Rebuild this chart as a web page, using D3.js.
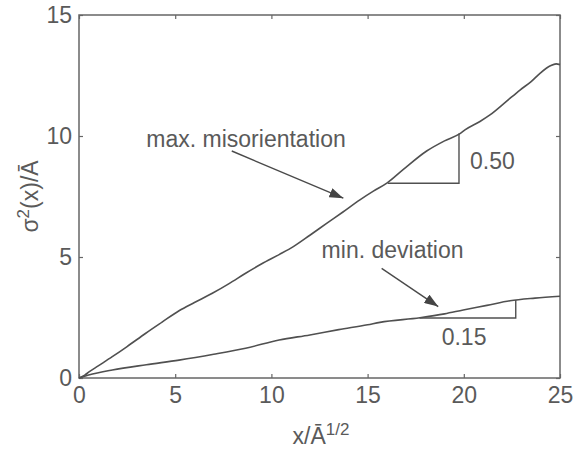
<!DOCTYPE html>
<html><head><meta charset="utf-8">
<script src="https://cdn.jsdelivr.net/npm/d3@7"></script>
<style>body{margin:0;background:#fff}text{font-family:"Liberation Sans",Arial,sans-serif}</style>
</head><body>
<svg id="c" width="574" height="449"></svg>
<script>
const xTicks = [0, 5, 10, 15, 20, 25];
const yTicks = [0, 5, 10, 15];
const maxMisX = [0, 0.3, 0.52, 1.0, 1.73, 2.5, 3.47, 4.3, 5.2, 6.0, 6.93, 7.8, 8.66, 9.5, 10.4, 11.14, 12.0, 12.87, 13.7, 14.6, 15.3, 16.0, 16.86, 18.07, 19.0, 19.8, 20.06, 20.84, 21.36, 22.2, 22.92, 23.5, 23.96, 24.5, 24.8, 25];
const maxMisY = [0, 0.12, 0.25, 0.5, 0.88, 1.3, 1.85, 2.3, 2.78, 3.12, 3.5, 3.9, 4.33, 4.72, 5.1, 5.43, 5.9, 6.39, 6.85, 7.36, 7.72, 8.05, 8.62, 9.38, 9.8, 10.1, 10.25, 10.6, 10.87, 11.42, 11.9, 12.25, 12.59, 12.9, 12.98, 12.95];
const minDevX = [0, 0.5, 1.73, 3.5, 5.2, 7.0, 8.66, 10.4, 12.0, 13.5, 15.0, 15.64, 17.72, 19.0, 19.97, 21.2, 22.4, 23.7, 25];
const minDevY = [0, 0.12, 0.33, 0.55, 0.74, 0.98, 1.23, 1.57, 1.78, 2.0, 2.2, 2.3, 2.49, 2.65, 2.81, 3.0, 3.19, 3.3, 3.38];
const triUpper = [[16.05, 8.05], [19.75, 8.05], [19.75, 10.1]];
const triLower = [[17.7, 2.48], [22.7, 2.48], [22.7, 3.22]];
const labels = [
  {t: "max. misorientation", x: 3.5, y: 9.56},
  {t: "min. deviation", x: 12.61, y: 4.95},
  {t: "0.50", x: 20.32, y: 8.64},
  {t: "0.15", x: 18.85, y: 1.36}
];
const arrows = [
  {x1: 7.94, y1: 9.38, x2: 13.74, y2: 7.43},
  {x1: 15.73, y1: 4.53, x2: 18.67, y2: 2.95}
];

const W = 574, H = 449, m = {l: 79, r: 14, t: 15, b: 71};
const svg = d3.select("#c");
const x = d3.scaleLinear().domain([0, 25]).range([m.l, W - m.r]);
const y = d3.scaleLinear().domain([0, 15]).range([H - m.b, m.t]);
const axisCol = "#666", lineCol = "#505050", textCol = "#5a5a5a", fs = 23;

svg.append("defs").append("marker").attr("id", "ah")
  .attr("viewBox", "0 0 14 10").attr("refX", 14).attr("refY", 5)
  .attr("markerWidth", 14).attr("markerHeight", 10).attr("markerUnits", "userSpaceOnUse")
  .attr("orient", "auto")
  .append("path").attr("d", "M0,0L14,5L0,10Z").attr("fill", "#444");

function styleAxis(g) {
  g.select(".domain").remove();
  g.selectAll("line").attr("stroke", axisCol).attr("stroke-width", 1.2);
  g.selectAll("text").attr("fill", textCol).style("font-size", fs + "px")
   .style("font-family", "'Liberation Sans',Arial,sans-serif");
}
svg.append("g").attr("transform", `translate(0,${H - m.b})`)
  .call(d3.axisBottom(x).tickValues(xTicks).tickSize(-4).tickPadding(9).tickFormat(d3.format("d")))
  .call(styleAxis);
svg.append("g").attr("transform", `translate(0,${m.t})`)
  .call(d3.axisTop(x).tickValues(xTicks).tickSize(-4).tickFormat(""))
  .call(styleAxis);
svg.append("g").attr("transform", `translate(${m.l},0)`)
  .call(d3.axisLeft(y).tickValues(yTicks).tickSize(-4).tickPadding(7).tickFormat(d3.format("d")))
  .call(styleAxis);
svg.append("g").attr("transform", `translate(${W - m.r},0)`)
  .call(d3.axisRight(y).tickValues(yTicks).tickSize(-4).tickFormat(""))
  .call(styleAxis);

svg.append("rect").attr("x", x(0)).attr("y", y(15)).attr("width", x(25) - x(0)).attr("height", y(0) - y(15))
  .attr("fill", "none").attr("stroke", axisCol).attr("stroke-width", 1.5);

const line = d3.line().x(d => x(d[0])).y(d => y(d[1]));
const smooth = d3.line().x(d => x(d[0])).y(d => y(d[1])).curve(d3.curveMonotoneX);
svg.append("path").datum(maxMisX.map((v, i) => [v, maxMisY[i]]))
  .attr("d", smooth).attr("fill", "none").attr("stroke", lineCol).attr("stroke-width", 1.6);
svg.append("path").datum(minDevX.map((v, i) => [v, minDevY[i]]))
  .attr("d", smooth).attr("fill", "none").attr("stroke", lineCol).attr("stroke-width", 1.6);

[triUpper, triLower].forEach(t => {
  svg.append("path").datum(t).attr("d", line).attr("fill", "none")
    .attr("stroke", lineCol).attr("stroke-width", 1.4);
});

arrows.forEach(a => {
  svg.append("line").attr("x1", x(a.x1)).attr("y1", y(a.y1)).attr("x2", x(a.x2)).attr("y2", y(a.y2))
    .attr("stroke", "#4a4a4a").attr("stroke-width", 1.4).attr("marker-end", "url(#ah)");
});

labels.forEach(l => {
  svg.append("text").attr("x", x(l.x)).attr("y", y(l.y)).attr("fill", textCol)
    .style("font-size", fs + "px").text(l.t);
});

// axis titles
const xt = svg.append("text").attr("x", 321).attr("y", 444).attr("text-anchor", "middle")
  .attr("fill", textCol).style("font-size", fs + "px");
xt.append("tspan").text("x/Ā");
xt.append("tspan").attr("dy", -9).style("font-size", "17px").text("1/2");

const yt = svg.append("text").attr("transform", `translate(38,${(y(0) + y(15)) / 2}) rotate(-90)`)
  .attr("text-anchor", "middle").attr("fill", textCol).style("font-size", fs + "px");
yt.append("tspan").text("σ");
yt.append("tspan").attr("dy", -9).style("font-size", "17px").text("2");
yt.append("tspan").attr("dy", 9).text("(x)/Ā");
</script>
</body></html>
